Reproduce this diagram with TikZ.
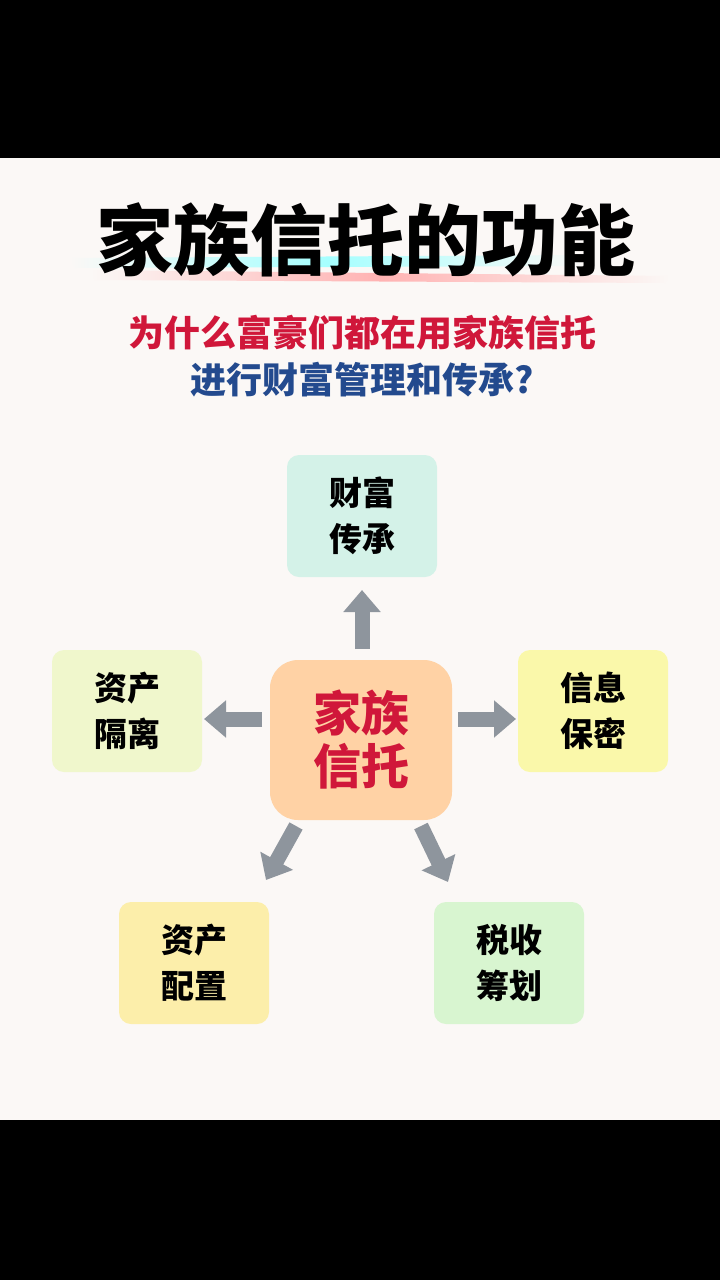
\documentclass[tikz,border=0pt]{standalone}
\usepackage{fontspec}
\newfontfamily\cjk{Noto Sans CJK SC}
\usetikzlibrary{arrows.meta}
\definecolor{bg}{HTML}{FBF8F6}
\definecolor{ttred}{HTML}{D0173A}
\definecolor{ttblue}{HTML}{234A8E}
\definecolor{arr}{HTML}{8E959D}
\definecolor{ctop}{RGB}{212,242,232}
\definecolor{cleft}{RGB}{240,247,204}
\definecolor{cright}{RGB}{250,248,170}
\definecolor{cbl}{RGB}{252,238,170}
\definecolor{cbr}{RGB}{216,245,208}
\definecolor{ccen}{RGB}{255,210,165}
\begin{document}
\begin{tikzpicture}[x=1pt,y=-1pt,
  box/.style={rounded corners=12pt,minimum width=150pt,minimum height=122pt,inner sep=0pt,align=center,font=\cjk\bfseries\fontsize{33}{46}\selectfont,text=black},
  ar/.style={draw=arr,line width=15pt,-{Triangle[width=36pt,length=22pt]}}]
\useasboundingbox (0,0) rectangle (720,1280);
\fill[black] (0,0) rectangle (720,1280);
\fill[bg] (0,158) rectangle (720,1120);
% brush strokes
\shade[left color=bg,right color=bg,middle color=cyan!35] (70,258) -- (580,255) -- (585,266) -- (75,268) -- cycle;
\shade[left color=bg,right color=bg,middle color=red!30] (90,270) -- (670,276) -- (665,283) -- (95,280) -- cycle;
\node (title) at (366,240) {\cjk\bfseries\fontsize{77}{80}\selectfont 家族信托的功能};
\node[text=ttred] (sub1) at (362,333) {\cjk\bfseries\fontsize{36}{40}\selectfont 为什么富豪们都在用家族信托};
\node[text=ttblue] (sub2) at (362,380) {\cjk\bfseries\fontsize{36}{40}\selectfont 进行财富管理和传承?};
\node[box,fill=ctop] (top) at (362,516) {财富\\传承};
\node[box,fill=cleft] (left) at (127,711) {资产\\隔离};
\node[box,fill=cright] (right) at (593,711) {信息\\保密};
\node[box,fill=cbl] (bl) at (194,963) {资产\\配置};
\node[box,fill=cbr] (br) at (509,963) {税收\\筹划};
\node[box,minimum width=182pt,minimum height=160pt,rounded corners=28pt,fill=ccen,text=ttred,font=\cjk\bfseries\fontsize{48}{53}\selectfont] (c) at (361,740) {家族\\信托};
\coordinate (ut) at (362,649); \coordinate (uh) at (362,590);
\coordinate (lt) at (262,719); \coordinate (lh) at (204,719);
\coordinate (rt) at (458,719); \coordinate (rh) at (516,719);
\coordinate (dlt) at (296,826); \coordinate (dlh) at (266,880);
\coordinate (drt) at (421,826); \coordinate (drh) at (448,882);
\draw[ar] (ut) -- (uh);
\draw[ar] (lt) -- (lh);
\draw[ar] (rt) -- (rh);
\draw[ar] (dlt) -- (dlh);
\draw[ar] (drt) -- (drh);
\end{tikzpicture}
\end{document}
